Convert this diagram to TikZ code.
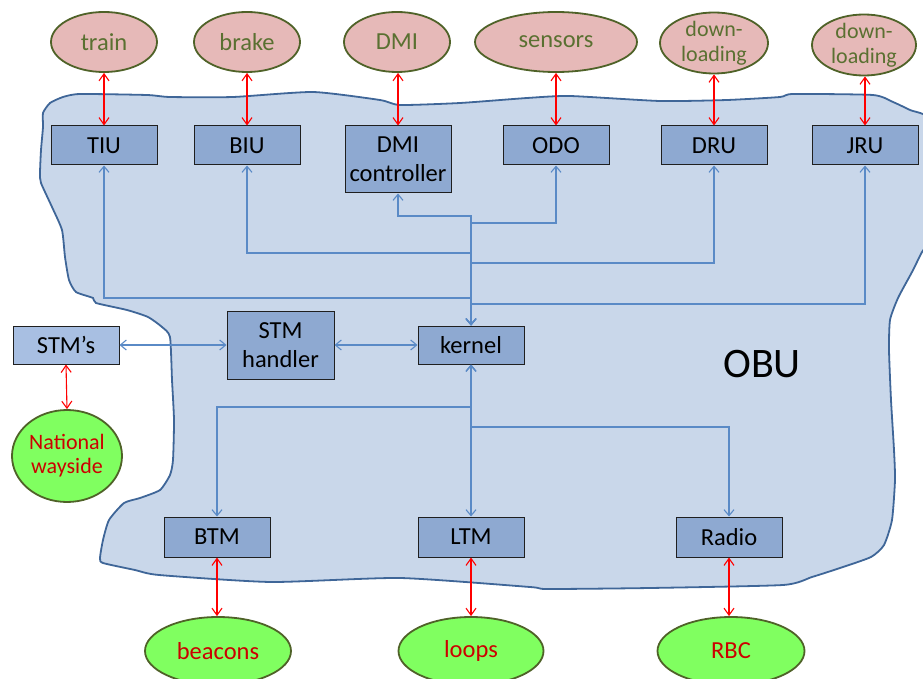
\documentclass[tikz,border=0pt]{standalone}
\usepackage{fontspec}
\setmainfont{Carlito}
\usetikzlibrary{shapes.geometric,arrows.meta}
\definecolor{blobfill}{HTML}{C9D7EA}
\definecolor{blobdraw}{HTML}{3F6698}
\definecolor{boxfill}{HTML}{8EA9D1}
\definecolor{boxfilllight}{HTML}{A8BFE2}
\definecolor{boxdraw}{HTML}{1F1F1F}
\definecolor{connblue}{HTML}{5A8AC6}
\definecolor{rose}{HTML}{E6B9B8}
\definecolor{olivedraw}{HTML}{4F6228}
\definecolor{olivetext}{HTML}{5A7031}
\definecolor{limefill}{HTML}{80FF60}
\definecolor{redtext}{HTML}{CC0000}
\begin{document}
\begin{tikzpicture}[x=1pt,y=-1pt,
  unitbox/.style={draw=boxdraw, fill=boxfill, line width=1pt, minimum width=106pt,
    minimum height=39pt, inner sep=0pt, font=\fontsize{24.5}{29}\selectfont, align=center},
  topell/.style={ellipse, draw=olivedraw, fill=rose, line width=1.8pt, inner sep=0pt,
    text=olivetext, font=\fontsize{24.5}{25}\selectfont, align=center, minimum height=60pt},
  botell/.style={ellipse, draw=olivedraw, fill=limefill, line width=1.8pt, inner sep=0pt,
    text=redtext, font=\fontsize{24.5}{25}\selectfont, align=center, minimum height=68pt},
  conn/.style={draw=connblue, line width=1.1pt, {Straight Barb[length=6pt,width=10pt]}-{Straight Barb[length=6pt,width=10pt]}},
  redarr/.style={draw=red, line width=1.1pt, {Straight Barb[length=7pt,width=10pt]}-{Straight Barb[length=7pt,width=10pt]}}
]
\useasboundingbox (0,0) rectangle (923,679);
\clip (0,0) rectangle (923,679);

% OBU blob
\draw[fill=blobfill, draw=blobdraw, line width=1.8pt]
  plot[smooth cycle, tension=0.35] coordinates {
  (43,113) (50,103) (63,97) (80,94) (147,95) (170,97) (233,97) (313,92) (380,100)
  (400,105) (460,103) (527,98) (570,96) (660,101) (727,100) (780,97) (793,94)
  (873,95) (893,102) (910,110) (930,120) (934,180) (932,235) (922,252) (912,272)
  (898,298) (890,320) (889,350) (891,400) (894,450) (895,480) (892,520) (884,545)
  (871,557) (840,568) (812,577) (783,585) (650,588) (547,589) (530,587) (400,578)
  (271,582) (159,575) (135,570) (103,563) (100,558) (103,540) (109,520) (124,503)
  (140,498) (160,490) (170,475) (173,460) (174,420) (172,380) (170,337) (162,327)
  (148,317) (127,310) (96,303) (93,298) (76,292) (69,280) (65,257) (62,230)
  (52,207) (41,183) (40,173) (41,150) (43,127)};

\node[font=\fontsize{42}{46}\selectfont] (obu) at (762,364) {OBU};

% top ellipses
\node[topell, minimum width=106pt] (train) at (104,42) {train};
\node[topell, minimum width=106pt] (brake) at (247,42) {brake};
\node[topell, minimum width=106pt] (dmi) at (397,42) {DMI};
\node[topell, minimum width=162pt] (sensors) at (556,42) {sensors};
\node[topell, minimum width=108pt, minimum height=61pt, inner ysep=-2pt, font=\fontsize{22}{25}\selectfont] (dl1) at (714,43) {down-\\loading};
\node[topell, minimum width=104pt, minimum height=61pt, inner ysep=-2pt, font=\fontsize{22}{25}\selectfont] (dl2) at (864,45) {down-\\loading};

% top boxes
\node[unitbox] (TIU) at (104,145.5) {TIU};
\node[unitbox] (BIU) at (247,145.5) {BIU};
\node[unitbox, minimum height=67pt] (DMIc) at (398,159.5) {DMI\\controller};
\node[unitbox] (ODO) at (556,145.5) {ODO};
\node[unitbox] (DRU) at (714,145.5) {DRU};
\node[unitbox] (JRU) at (865,145.5) {JRU};

% middle
\node[unitbox, fill=boxfilllight, minimum height=38pt] (STMs) at (66,345) {STM’s};
\node[unitbox, minimum width=107pt, minimum height=68pt] (STMh) at (280.5,345) {STM\\handler};
\node[unitbox, minimum height=38pt] (kernel) at (471,345) {kernel};
\node[botell, minimum width=110pt, minimum height=92pt, font=\fontsize{22}{24}\selectfont] (natl) at (67,456) {National\\wayside};

% bottom
\node[unitbox, minimum height=40pt] (BTM) at (217,537) {BTM};
\node[unitbox, minimum height=40pt] (LTM) at (471,537) {LTM};
\node[unitbox, minimum height=40pt] (Radio) at (729,537) {Radio};
\node[botell, minimum width=146pt] (beacons) at (218,651) {beacons};
\node[botell, minimum width=145pt] (loops) at (471,651) {loops};
\node[botell, minimum width=147pt] (RBC) at (731,651) {RBC};

% junction levels
\coordinate (yDMI) at (0,216);
\coordinate (yODO) at (0,223);
\coordinate (yBIU) at (0,253);
\coordinate (yDRU) at (0,263);
\coordinate (yTIU) at (0,298);
\coordinate (yJRU) at (0,304);
\coordinate (yBTM) at (0,407);
\coordinate (yRadio) at (0,427);

% blue connectors
\draw[conn] (kernel.north) -- (kernel.north |- yDMI) -| (DMIc.south);
\draw[conn] (kernel.north) -- (kernel.north |- yODO) -| (ODO.south);
\draw[conn] (kernel.north) -- (kernel.north |- yBIU) -| (BIU.south);
\draw[conn] (kernel.north) -- (kernel.north |- yDRU) -| (DRU.south);
\draw[conn] (kernel.north) -- (kernel.north |- yTIU) -| (TIU.south);
\draw[conn] (kernel.north) -- (kernel.north |- yJRU) -| (JRU.south);
\draw[conn] (kernel.south) -- (kernel.south |- yBTM) -| (BTM.north);
\draw[conn] (kernel.south) -- (LTM.north);
\draw[conn] (kernel.south) -- (kernel.south |- yRadio) -| (Radio.north);
\draw[conn] (STMs.east) -- (STMh.west);
\draw[conn] (STMh.east) -- (kernel.west);

% red connectors
\draw[redarr] (TIU.north |- train.south) -- (TIU.north);
\draw[redarr] (BIU.north |- brake.south) -- (BIU.north);
\draw[redarr] (DMIc.north |- dmi.south) -- (DMIc.north);
\draw[redarr] (ODO.north |- sensors.south) -- (ODO.north);
\draw[redarr] (DRU.north |- dl1.south) -- (DRU.north);
\draw[redarr] (JRU.north |- dl2.south) -- (JRU.north);
\draw[redarr] (STMs.south) -- (natl.north);
\draw[redarr] (BTM.south) -- (BTM.south |- beacons.north);
\draw[redarr] (LTM.south) -- (LTM.south |- loops.north);
\draw[redarr] (Radio.south) -- (Radio.south |- RBC.north);
\end{tikzpicture}
\end{document}
